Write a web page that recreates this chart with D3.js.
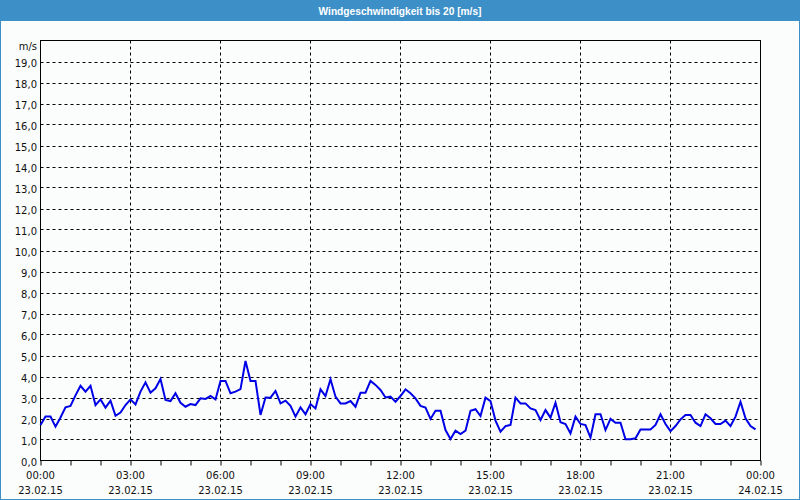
<!DOCTYPE html>
<html>
<head>
<meta charset="utf-8">
<script src="https://cdn.jsdelivr.net/npm/d3@7/dist/d3.min.js"></script>
<style>
  html, body { margin: 0; padding: 0; background: #ffffff; }
  svg { display: block; }
  text { font-family: Tahoma, "DejaVu Sans", sans-serif; }
</style>
</head>
<body>
<svg id="chart" width="800" height="500"></svg>
<script>
// ---- data ----
const title = "Windgeschwindigkeit bis 20 [m/s]";
const unitLabel = "m/s";
const dateLabels = ["23.02.15","23.02.15","23.02.15","23.02.15","23.02.15","23.02.15","23.02.15","23.02.15","24.02.15"];
const timeLabels = ["00:00","03:00","06:00","09:00","12:00","15:00","18:00","21:00","00:00"];
const yTicks = [0,1,2,3,4,5,6,7,8,9,10,11,12,13,14,15,16,17,18,19];
const intervalMinutes = 10;
// wind speed in m/s, one sample every 10 minutes from 00:00
const windSpeed = [
  1.69, 2.09, 2.09, 1.61, 2.05, 2.53, 2.60, 3.10, 3.56, 3.28,
  3.56, 2.64, 2.91, 2.52, 2.85, 2.13, 2.28, 2.64, 2.91, 2.67,
  3.28, 3.72, 3.23, 3.44, 3.88, 2.88, 2.83, 3.20, 2.75, 2.56,
  2.69, 2.64, 2.96, 2.93, 3.07, 2.91, 3.79, 3.79, 3.20, 3.28,
  3.40, 4.74, 3.79, 3.79, 2.17, 3.00, 2.99, 3.31, 2.72, 2.85,
  2.60, 2.09, 2.53, 2.20, 2.69, 2.48, 3.39, 3.07, 3.87, 3.04,
  2.72, 2.72, 2.83, 2.56, 3.23, 3.23, 3.79, 3.60, 3.36, 3.00,
  3.04, 2.80, 3.07, 3.39, 3.20, 2.96, 2.60, 2.52, 1.98, 2.37,
  2.37, 1.45, 1.02, 1.42, 1.26, 1.42, 2.37, 2.44, 2.12, 2.99,
  2.83, 1.90, 1.37, 1.64, 1.69, 2.99, 2.72, 2.72, 2.48, 2.40,
  1.93, 2.40, 2.04, 2.75, 1.82, 1.74, 1.29, 2.09, 1.74, 1.69,
  1.09, 2.20, 2.20, 1.45, 1.98, 1.80, 1.80, 1.01, 1.01, 1.06,
  1.48, 1.48, 1.48, 1.69, 2.20, 1.74, 1.40, 1.64, 1.96, 2.17,
  2.17, 1.80, 1.64, 2.20, 2.01, 1.74, 1.74, 1.90, 1.64, 2.09,
  2.80, 2.01, 1.64, 1.48
];

// ---- layout ----
const W = 800, H = 500;
const plotL = 40.5, plotR = 760.5, plotT = 40.5, plotB = 460.5;
const svg = d3.select("#chart");

// window background and border
svg.append("rect").attr("x", 0).attr("y", 0).attr("width", W).attr("height", H).attr("fill", "#fbfdfc");
svg.append("rect").attr("x", 0.5).attr("y", 0.5).attr("width", W - 1).attr("height", H - 1)
  .attr("fill", "none").attr("stroke", "#3d8fc7");
svg.append("rect").attr("x", 0).attr("y", 0).attr("width", W).attr("height", 21).attr("fill", "#3d8fc7");
svg.append("text").attr("x", 400).attr("y", 14.5).attr("text-anchor", "middle")
  .style("font-family", "'Liberation Sans', Arial, sans-serif")
  .attr("fill", "#ffffff").attr("font-weight", "bold").attr("font-size", "10.2px").text(title);

// scales
const x = d3.scaleLinear().domain([0, 24 * 60]).range([plotL, plotR]);
const y = d3.scaleLinear().domain([0, 20]).range([plotB, plotT]);

// horizontal grid
svg.append("g").selectAll("line").data(yTicks.filter(d => d > 0)).join("line")
  .attr("x1", plotL).attr("x2", plotR)
  .attr("y1", d => Math.round(y(d)) + 0.5).attr("y2", d => Math.round(y(d)) + 0.5)
  .attr("stroke", "#000").attr("stroke-dasharray", "3,3");

// vertical grid every 3 h
const gridHours = d3.range(3, 24, 3);
svg.append("g").selectAll("line").data(gridHours).join("line")
  .attr("x1", d => x(d * 60)).attr("x2", d => x(d * 60))
  .attr("y1", plotT).attr("y2", plotB)
  .attr("stroke", "#000").attr("stroke-dasharray", "3,3");

// plot frame
svg.append("rect").attr("x", plotL).attr("y", plotT).attr("width", plotR - plotL).attr("height", plotB - plotT)
  .attr("fill", "none").attr("stroke", "#000");

// x axis ticks every hour
const xAxis = d3.axisBottom(x).tickValues(d3.range(0, 25).map(h => h * 60)).tickSize(5).tickFormat("");
const gx = svg.append("g").attr("transform", `translate(0,${plotB})`).call(xAxis);
gx.select(".domain").remove();
gx.selectAll("line").attr("stroke", "#000");

// x labels
const labelHours = d3.range(0, 25, 3);
svg.append("g").selectAll("text").data(labelHours).join("text")
  .attr("x", (d) => x(d * 60)).attr("y", 479).attr("text-anchor", "middle")
  .attr("font-size", "10px").attr("fill", "#111")
  .text((d, i) => timeLabels[i]);
svg.append("g").selectAll("text").data(labelHours).join("text")
  .attr("x", (d) => x(d * 60)).attr("y", 494).attr("text-anchor", "middle")
  .attr("font-size", "10px").attr("fill", "#111")
  .text((d, i) => dateLabels[i]);

// y labels
const fmt = d => d3.format(".1f")(d).replace(".", ",");
svg.append("g").selectAll("text").data(yTicks).join("text")
  .attr("x", 37).attr("y", d => y(d) + 5.5).attr("text-anchor", "end")
  .attr("font-size", "10px").attr("fill", "#111").text(fmt);
svg.append("text").attr("x", 37).attr("y", 50).attr("text-anchor", "end")
  .attr("font-size", "10px").attr("fill", "#111").text(unitLabel);

// line
const line = d3.line().x((d, i) => x(i * intervalMinutes)).y(d => y(d));
svg.append("path").datum(windSpeed).attr("d", line)
  .attr("fill", "none").attr("stroke", "#0000e6").attr("stroke-width", 2)
  .attr("stroke-linejoin", "miter");
</script>
</body>
</html>
